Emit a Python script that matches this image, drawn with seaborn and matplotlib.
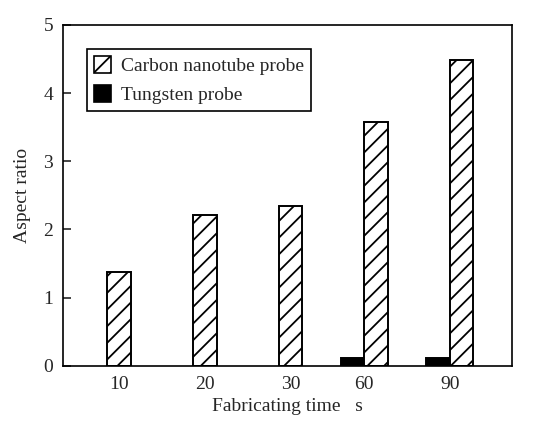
import matplotlib
matplotlib.use("Agg")
import matplotlib.pyplot as plt
import seaborn as sns
import pandas as pd
import numpy as np
from matplotlib.patches import Patch

times = ["10", "20", "30", "60", "90"]
carbon = [1.38, 2.21, 2.34, 3.58, 4.48]
tungsten = [None, None, None, 0.12, 0.12]
series_names = ["Tungsten probe", "Carbon nanotube probe"]

sns.set_theme(style="white")
plt.rcParams["font.family"] = ["Liberation Serif", "DejaVu Serif"]
plt.rcParams["hatch.linewidth"] = 1.3

rows = []
for t, c, w in zip(times, carbon, tungsten):
    if w is not None:
        rows.append({"time": t, "series": series_names[0], "value": w})
    rows.append({"time": t, "series": series_names[1], "value": c})
df = pd.DataFrame(rows)

fig, ax = plt.subplots(figsize=(5.34, 4.28), dpi=100)
fig.subplots_adjust(left=0.118, right=0.959, top=0.942, bottom=0.145)

sns.barplot(data=df, x="time", y="value", hue="series", order=times,
            hue_order=series_names, palette=["black", "white"],
            dodge=True, width=0.55, edgecolor="black", linewidth=1.4,
            saturation=1, ax=ax, legend=False)

for bar in ax.containers[1]:
    bar.set_hatch("//")

# tick positions: centered on carbon bar when no tungsten bar, else group center
carbon_centers = [p.get_x() + p.get_width() / 2 for p in ax.containers[1]]
tick_pos = [cc if w is None else i for i, (cc, w) in enumerate(zip(carbon_centers, tungsten))]
ax.set_xticks(tick_pos, times)

fs = 14
ax.set_xlim(-0.52, 4.73)
ax.set_ylim(0, 5)
ax.set_yticks([0, 1, 2, 3, 4, 5])
ax.tick_params(axis="y", direction="in", length=6, width=1.2, labelsize=fs, pad=7, left=True)
ax.tick_params(axis="x", length=0, labelsize=fs, pad=7)
for s in ax.spines.values():
    s.set_color("black")
    s.set_linewidth(1.2)

ax.set_xlabel("Fabricating time   s", fontsize=fs, labelpad=4)
ax.set_ylabel("Aspect ratio", fontsize=fs, labelpad=9)

handles = [Patch(facecolor="white", edgecolor="black", hatch="//", linewidth=1.2),
           Patch(facecolor="black", edgecolor="black", linewidth=1.2)]
leg = ax.legend(handles, [series_names[1], series_names[0]], loc="upper left",
                bbox_to_anchor=(0.053, 0.93), fancybox=False, framealpha=1,
                edgecolor="black", fontsize=fs, handlelength=0.9, handleheight=1.0,
                handletextpad=0.5, borderpad=0.35, labelspacing=0.5, borderaxespad=0)
leg.get_frame().set_linewidth(1.2)

fig.savefig("out.png", dpi=100)
